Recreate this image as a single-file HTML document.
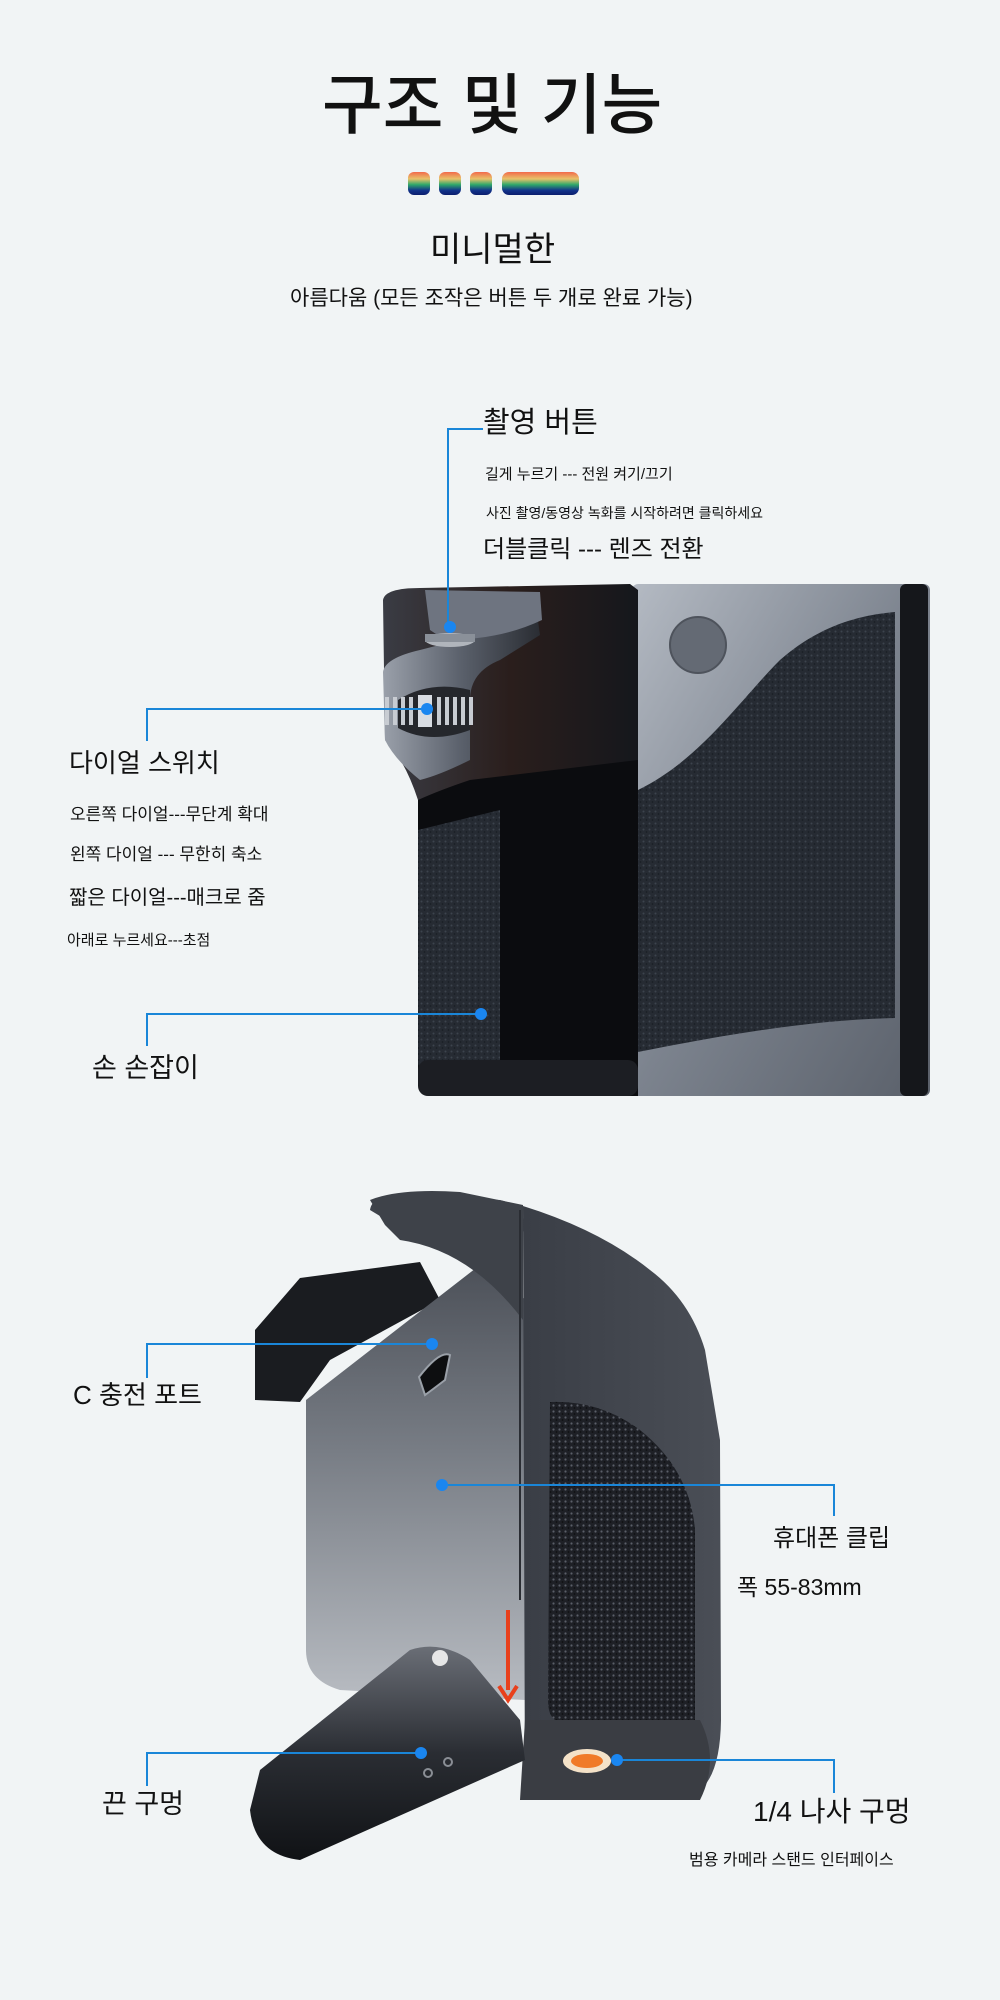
<!DOCTYPE html>
<html><head><meta charset="utf-8"><style>
html,body{margin:0;padding:0;}
body{width:1000px;height:2000px;background:#f1f4f5;position:relative;overflow:hidden;font-family:"Liberation Sans","Noto Sans CJK KR",sans-serif;color:#111;}
.t{position:absolute;white-space:nowrap;line-height:1;}
svg{position:absolute;left:0;top:0;}
</style></head><body>
<svg width="1000" height="2000" viewBox="0 0 1000 2000">
<defs>
<linearGradient id="rb" x1="0" y1="0" x2="0" y2="1">
<stop offset="0" stop-color="#f26a4b"/><stop offset="0.3" stop-color="#e8c26a"/><stop offset="0.55" stop-color="#2fa86a"/><stop offset="0.8" stop-color="#12328a"/><stop offset="1" stop-color="#0c1e6e"/></linearGradient>
<linearGradient id="plate" x1="0" y1="0" x2="1" y2="1">
<stop offset="0" stop-color="#b4bac3"/><stop offset="0.5" stop-color="#7c838e"/><stop offset="1" stop-color="#5a606a"/></linearGradient>
<linearGradient id="top1" x1="0" y1="0" x2="1" y2="0">
<stop offset="0" stop-color="#3a3c44"/><stop offset="0.5" stop-color="#2a1e1c"/><stop offset="1" stop-color="#15171c"/></linearGradient>
<linearGradient id="metal" x1="0" y1="0" x2="1" y2="0">
<stop offset="0" stop-color="#9aa0aa"/><stop offset="0.5" stop-color="#5a606b"/><stop offset="1" stop-color="#2a2d33"/></linearGradient>
<linearGradient id="clip" x1="0" y1="0" x2="0" y2="1">
<stop offset="0" stop-color="#3c4048"/><stop offset="0.5" stop-color="#777c84"/><stop offset="1" stop-color="#b8bcc2"/></linearGradient>
<linearGradient id="grip2" x1="0" y1="0" x2="1" y2="0">
<stop offset="0" stop-color="#3a3e46"/><stop offset="1" stop-color="#4a4e56"/></linearGradient>
<linearGradient id="foot" x1="0" y1="0" x2="0" y2="1">
<stop offset="0" stop-color="#6a6e76"/><stop offset="0.5" stop-color="#2a2d33"/><stop offset="1" stop-color="#101215"/></linearGradient>
<pattern id="lea" width="6" height="6" patternUnits="userSpaceOnUse">
<rect width="6" height="6" fill="#262b33"/><circle cx="1.5" cy="1.5" r="1" fill="#3c434e"/><circle cx="4.5" cy="4" r="0.9" fill="#1a1e24"/></pattern>
<pattern id="lea2" width="6" height="6" patternUnits="userSpaceOnUse">
<rect width="6" height="6" fill="#1e2026"/><circle cx="1.5" cy="1.5" r="1.1" fill="#5a5e68"/><circle cx="4.5" cy="4" r="0.9" fill="#0e0f12"/></pattern>
</defs>
<rect x="408" y="172" width="22" height="23" rx="6" fill="url(#rb)"/>
<rect x="439" y="172" width="22" height="23" rx="6" fill="url(#rb)"/>
<rect x="470" y="172" width="22" height="23" rx="6" fill="url(#rb)"/>
<rect x="502" y="172" width="77" height="23" rx="7" fill="url(#rb)"/>

<!-- product 1 -->
<rect x="632" y="584" width="298" height="512" rx="6" fill="url(#plate)"/>
<rect x="900" y="584" width="28" height="512" rx="6" fill="#15171b"/>
<path d="M638,790 C700,760 740,700 780,660 C820,625 860,615 895,612 L895,1018 C800,1020 700,1040 638,1052 Z" fill="url(#lea)"/>
<circle cx="698" cy="645" r="28" fill="#646a74" stroke="#4e535c" stroke-width="2"/>
<path d="M383,600 Q385,588 420,588 L630,584 L638,590 L638,1096 L430,1096 Q418,1090 418,1070 L418,800 Q405,760 385,740 Z" fill="url(#top1)"/>
<path d="M418,800 Q440,790 470,780 L638,760 L638,1096 L430,1096 Q418,1090 418,1070 Z" fill="#0b0c0f"/>
<path d="M418,830 L500,810 L500,1080 L430,1080 Q418,1075 418,1060 Z" fill="url(#lea)"/>
<rect x="418" y="1060" width="220" height="36" rx="10" fill="#1c1e23"/>
<path d="M383,672 Q385,658 420,650 L490,632 L535,600 L540,635 L500,660 Q470,672 470,700 L470,760 Q440,775 420,780 Q395,760 385,740 Z" fill="url(#metal)"/>
<path d="M425,590 L540,592 L542,620 Q500,640 445,640 L430,630 Z" fill="#6e7480"/>
<ellipse cx="450" cy="640" rx="25" ry="7" fill="#b0b5bc"/>
<rect x="425" y="634" width="50" height="8" fill="#8a9099"/>
<path d="M398,700 Q430,680 470,690 L470,730 Q430,745 398,728 Z" fill="#25272c"/>
<g fill="#c8ccd2">
<rect x="385" y="697" width="4" height="28"/><rect x="393" y="697" width="4" height="28"/><rect x="401" y="697" width="4" height="28"/><rect x="409" y="697" width="4" height="28"/>
<rect x="418" y="695" width="14" height="32" fill="#d8dce2"/>
<rect x="437" y="697" width="4" height="28"/><rect x="445" y="697" width="4" height="28"/><rect x="453" y="697" width="4" height="28"/><rect x="461" y="697" width="4" height="28"/><rect x="469" y="697" width="4" height="28"/>
</g>

<!-- product 2 -->
<path d="M255,1330 L300,1278 L420,1262 L440,1300 L330,1360 L300,1402 L255,1400 Z" fill="#1a1c20"/>
<path d="M306,1400 L306,1650 Q306,1680 340,1690 L525,1700 L525,1300 Q480,1250 420,1240 L370,1210 Q372,1195 400,1195 L500,1200 Q525,1205 525,1230 Z" fill="url(#clip)"/>
<path d="M370,1200 Q400,1188 460,1192 L523,1205 L523,1320 Q470,1250 400,1240 L385,1225 Z" fill="#3e4249"/>
<path d="M523,1206 Q600,1230 650,1270 Q690,1300 705,1350 L720,1440 L721,1720 Q720,1795 680,1798 L525,1800 Z" fill="url(#grip2)"/>
<path d="M550,1402 Q600,1400 640,1430 Q690,1470 695,1530 L695,1720 L555,1720 Q548,1715 548,1700 Z" fill="url(#lea2)"/>
<path d="M520,1210 L520,1600" stroke="#2a2d33" stroke-width="2"/>
<path d="M525,1720 L700,1720 Q720,1760 700,1800 L520,1800 Z" fill="#3a3d43"/>
<path d="M410,1650 Q440,1640 470,1660 L520,1720 L525,1760 L300,1860 Q255,1855 250,1810 L260,1770 Z" fill="url(#foot)"/>
<circle cx="440" cy="1658" r="8" fill="#f4f4f4" opacity="0.9"/>
<circle cx="428" cy="1773" r="4" fill="none" stroke="#8a8e95" stroke-width="2"/>
<circle cx="448" cy="1762" r="4" fill="none" stroke="#8a8e95" stroke-width="2"/>
<path d="M419,1377 Q440,1350 450,1355 L445,1380 Q432,1390 425,1395 Z" fill="#0d0e10" stroke="#9aa0a8" stroke-width="2"/>
<ellipse cx="587" cy="1761" rx="24" ry="12" fill="#f4e2c8"/>
<ellipse cx="587" cy="1761" rx="16" ry="7" fill="#f07a28"/>
<line x1="508" y1="1610" x2="508" y2="1690" stroke="#e8401c" stroke-width="4"/>
<path d="M499,1686 L508,1700 L517,1686" stroke="#e8401c" stroke-width="4" fill="none"/>

<g stroke="#1a86d8" stroke-width="2" fill="none">
<polyline points="483,429 448,429 448,627"/>
<polyline points="147,741 147,709 427,709"/>
<polyline points="147,1046 147,1014 481,1014"/>
<polyline points="147,1378 147,1344 432,1344"/>
<polyline points="442,1485 834,1485 834,1516"/>
<polyline points="147,1786 147,1753 421,1753"/>
<polyline points="617,1760 834,1760 834,1793"/>
</g>
<g fill="#1a86f0">
<circle cx="450" cy="627" r="6"/><circle cx="427" cy="709" r="6"/><circle cx="481" cy="1014" r="6"/>
<circle cx="432" cy="1344" r="6"/><circle cx="442" cy="1485" r="6"/><circle cx="421" cy="1753" r="6"/><circle cx="617" cy="1760" r="6"/>
</g>
</svg>

<div class="t" style="left:322px;top:72px;font-size:66px;font-weight:500;">구조 및 기능</div>
<div class="t" style="left:430px;top:233px;font-size:34px;">미니멀한</div>
<div class="t" style="left:290px;top:288px;font-size:21px;">아름다움 (모든 조작은 버튼 두 개로 완료 가능)</div>

<div class="t" style="left:483px;top:409px;font-size:29px;">촬영 버튼</div>
<div class="t" style="left:485px;top:467px;font-size:15px;">길게 누르기 --- 전원 켜기/끄기</div>
<div class="t" style="left:486px;top:506px;font-size:14px;">사진 촬영/동영상 녹화를 시작하려면 클릭하세요</div>
<div class="t" style="left:483px;top:538px;font-size:24px;">더블클릭 --- 렌즈 전환</div>

<div class="t" style="left:69px;top:750px;font-size:26px;">다이얼 스위치</div>
<div class="t" style="left:70px;top:806px;font-size:17px;">오른쪽 다이얼---무단계 확대</div>
<div class="t" style="left:70px;top:846px;font-size:17px;">왼쪽 다이얼 --- 무한히 축소</div>
<div class="t" style="left:69px;top:888px;font-size:20px;">짧은 다이얼---매크로 줌</div>
<div class="t" style="left:67px;top:933px;font-size:15px;">아래로 누르세요---초점</div>
<div class="t" style="left:92px;top:1055px;font-size:27px;">손 손잡이</div>

<div class="t" style="left:73px;top:1382px;font-size:26px;">C 충전 포트</div>
<div class="t" style="left:773px;top:1527px;font-size:24px;">휴대폰 클립</div>
<div class="t" style="left:737px;top:1576px;font-size:23px;">폭 55-83mm</div>
<div class="t" style="left:102px;top:1791px;font-size:27px;">끈 구멍</div>
<div class="t" style="left:753px;top:1798px;font-size:28px;">1/4 나사 구멍</div>
<div class="t" style="left:689px;top:1853px;font-size:16px;">범용 카메라 스탠드 인터페이스</div>
</body></html>
